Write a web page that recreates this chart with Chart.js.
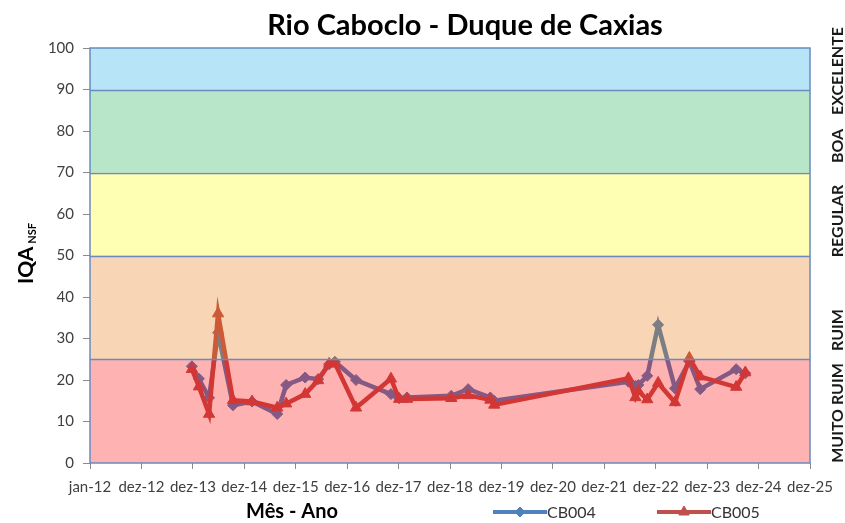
<!DOCTYPE html>
<html>
<head>
<meta charset="utf-8">
<script src="https://cdn.jsdelivr.net/npm/chart.js@4.4.1/dist/chart.umd.min.js"></script>
<style>
  html, body { margin: 0; padding: 0; background: #ffffff; }
  #wrap { width: 845px; height: 523px; }
</style>
</head>
<body>
<div id="wrap"><canvas id="c" width="845" height="523"></canvas></div>
<script>
// ---------- DATA ----------
const sampleDates = [
  '2013-12-24','2014-02-12','2014-04-25','2014-06-28','2014-10-12',
  '2015-02-24','2015-08-22','2015-10-24','2016-03-07','2016-06-07',
  '2016-08-24','2016-10-04','2017-03-03','2017-11-06','2018-01-03',
  '2018-02-28','2019-01-08','2019-05-08','2019-10-12','2019-11-09',
  '2022-06-18','2022-08-07','2022-08-28','2022-10-30','2023-01-15',
  '2023-05-15','2023-08-25','2023-11-10','2024-07-22','2024-09-25'
];
const cb004 = [
  23.3, 20.3, 15.7, 31.4, 13.9,
  14.8, 11.8, 18.8, 20.6, 20.2,
  23.8, 24.4, 20.0, 16.6, 15.6,
  15.8, 16.2, 17.8, 15.8, 15.0,
  19.6, 18.6, 18.8, 21.0, 33.3,
  18.0, 24.5, 17.8, 22.6, 21.6
];
const cb005 = [
  22.6, 18.4, 11.8, 36.0, 15.1,
  14.8, 13.3, 14.3, 16.6, 19.9,
  23.9, 24.0, 13.3, 20.3, 15.4,
  15.4, 15.6, 16.3, 15.2, 14.0,
  20.4, 15.8, 17.3, 15.3, 19.3,
  14.6, 25.3, 20.8, 18.3, 21.8
];
const seriesNames = ['CB004', 'CB005'];
const xTickLabels = ['jan-12','dez-12','dez-13','dez-14','dez-15','dez-16','dez-17',
  'dez-18','dez-19','dez-20','dez-21','dez-22','dez-23','dez-24','dez-25'];
const yTickValues = [0,10,20,30,40,50,60,70,80,90,100];
const bandLimits = [0, 25, 50, 70, 90, 100];
const bandNames = ['MUITO RUIM', 'RUIM', 'REGULAR', 'BOA', 'EXCELENTE'];
const titleText = 'Rio Caboclo - Duque de Caxias';
const xTitle = 'Mês - Ano';
const yTitleMain = 'IQA';
const yTitleSub = 'NSF';

// ---------- helpers ----------
const ORIGIN = Date.UTC(2012, 0, 1);
const DAY = 86400000;
const TICK_STEP = 365;
function toDays(s) {
  const p = s.split('-').map(Number);
  return (Date.UTC(p[0], p[1] - 1, p[2]) - ORIGIN) / DAY;
}
const xs = sampleDates.map(toDays);
const pts004 = xs.map((x, i) => ({ x: x, y: cb004[i] }));
const pts005 = xs.map((x, i) => ({ x: x, y: cb005[i] }));

// ---------- styles ----------
const FONT = 'Lato, "Open Sans", sans-serif';
const C004 = '#4F81BD';
const C005 = '#C0504D';
const bandOverlay = ['rgba(255,0,0,0.30)', 'rgba(232,115,5,0.30)', 'rgba(255,255,5,0.30)',
  'rgba(15,172,72,0.30)', 'rgba(15,165,228,0.30)'];
const bandLabelY = [413, 330, 221, 146, 71];
const FRAME = '#6A8AC0';

const decorPlugin = {
  id: 'decor',
  beforeDraw(chart) {
    const ctx = chart.ctx;
    ctx.save();
    ctx.fillStyle = '#ffffff';
    ctx.fillRect(0, 0, chart.width, chart.height);
    ctx.restore();
  },
  afterDatasetsDraw(chart) {
    const ctx = chart.ctx, a = chart.chartArea, y = chart.scales.y;
    ctx.save();
    for (let i = 0; i < bandLimits.length - 1; i++) {
      const y0 = y.getPixelForValue(bandLimits[i]);
      const y1 = y.getPixelForValue(bandLimits[i + 1]);
      ctx.fillStyle = bandOverlay[i];
      ctx.fillRect(a.left, y1, a.right - a.left, y0 - y1);
    }
    ctx.strokeStyle = FRAME;
    ctx.lineWidth = 1.5;
    for (let i = 1; i < bandLimits.length - 1; i++) {
      const yy = Math.round(y.getPixelForValue(bandLimits[i])) + 0.5;
      ctx.beginPath();
      ctx.moveTo(a.left, yy);
      ctx.lineTo(a.right, yy);
      ctx.stroke();
    }
    ctx.strokeRect(a.left, a.top, a.right - a.left, a.bottom - a.top);
    ctx.restore();
  },
  afterDraw(chart) {
    const ctx = chart.ctx;
    ctx.save();
    // title
    ctx.fillStyle = '#000000';
    ctx.font = 'bold 29px ' + FONT;
    ctx.textAlign = 'center';
    ctx.textBaseline = 'alphabetic';
    ctx.fillText(titleText, 465, 35);

    // y title
    ctx.save();
    ctx.translate(33, 284);
    ctx.rotate(-Math.PI / 2);
    ctx.textAlign = 'left';
    ctx.font = 'bold 21px ' + FONT;
    ctx.fillText(yTitleMain, 0, 0);
    const w = ctx.measureText(yTitleMain).width;
    ctx.font = 'bold 11px ' + FONT;
    ctx.fillText(yTitleSub, w + 3, 3);
    ctx.restore();

    // right band labels
    ctx.font = 'bold 16px ' + FONT;
    ctx.fillStyle = '#1a1a1a';
    for (let i = 0; i < bandNames.length; i++) {
      ctx.save();
      ctx.translate(843, bandLabelY[i]);
      ctx.rotate(-Math.PI / 2);
      ctx.textAlign = 'center';
      ctx.fillText(bandNames[i], 0, 0);
      ctx.restore();
    }

    // x title
    ctx.fillStyle = '#000000';
    ctx.font = 'bold 20px ' + FONT;
    ctx.textAlign = 'center';
    ctx.textBaseline = 'middle';
    ctx.fillText(xTitle, 292, 512);

    // legend
    const items = [
      { x: 493, color: C004, style: 'rectRot', r: 5 },
      { x: 657, color: C005, style: 'triangle', r: 6 }
    ];
    items.forEach((it, i) => {
      ctx.strokeStyle = it.color;
      ctx.fillStyle = it.color;
      ctx.lineWidth = 4;
      ctx.beginPath();
      ctx.moveTo(it.x, 512);
      ctx.lineTo(it.x + 54, 512);
      ctx.stroke();
      ctx.lineWidth = 1;
      Chart.helpers.drawPoint(ctx, { pointStyle: it.style, radius: it.r, borderWidth: 1 }, it.x + 27, 512);
      ctx.fillStyle = '#333333';
      ctx.font = '16px ' + FONT;
      ctx.textAlign = 'left';
      ctx.textBaseline = 'middle';
      ctx.fillText(seriesNames[i], it.x + 54, 513);
    });
    ctx.restore();
  }
};

new Chart(document.getElementById('c'), {
  type: 'line',
  data: {
    datasets: [
      {
        label: seriesNames[1], data: pts005, order: 0,
        borderColor: C005, backgroundColor: C005, borderWidth: 4.5,
        pointStyle: 'triangle', pointRadius: 6.5, pointBorderWidth: 1,
        tension: 0, fill: false
      },
      {
        label: seriesNames[0], data: pts004, order: 1,
        borderColor: C004, backgroundColor: C004, borderWidth: 4.5,
        pointStyle: 'rectRot', pointRadius: 5.5, pointBorderWidth: 1,
        tension: 0, fill: false
      }
    ]
  },
  options: {
    responsive: false,
    animation: false,
    events: [],
    layout: { padding: { left: 0, right: 35, top: 48, bottom: 0 } },
    plugins: { legend: { display: false }, title: { display: false }, tooltip: { enabled: false } },
    scales: {
      x: {
        type: 'linear',
        min: 0,
        max: TICK_STEP * (xTickLabels.length - 1),
        afterBuildTicks: s => { s.ticks = xTickLabels.map((_, i) => ({ value: i * TICK_STEP })); },
        ticks: {
          autoSkip: false, maxRotation: 0, minRotation: 0,
          color: '#404040', font: { family: FONT, size: 15 }, padding: 9,
          callback: (v, i) => xTickLabels[i]
        },
        grid: { drawOnChartArea: false, drawTicks: true, tickLength: 6, color: '#8a8a8a' },
        border: { display: false },
        afterFit: s => { s.height = 60; }
      },
      y: {
        min: 0, max: 100,
        afterBuildTicks: s => { s.ticks = yTickValues.map(v => ({ value: v })); },
        ticks: { color: '#404040', font: { family: FONT, size: 15 }, padding: 9 },
        grid: { drawOnChartArea: false, drawTicks: true, tickLength: 7, color: '#8a8a8a' },
        border: { display: false },
        afterFit: s => { s.width = 90; }
      }
    }
  },
  plugins: [decorPlugin]
});
</script>
</body>
</html>
